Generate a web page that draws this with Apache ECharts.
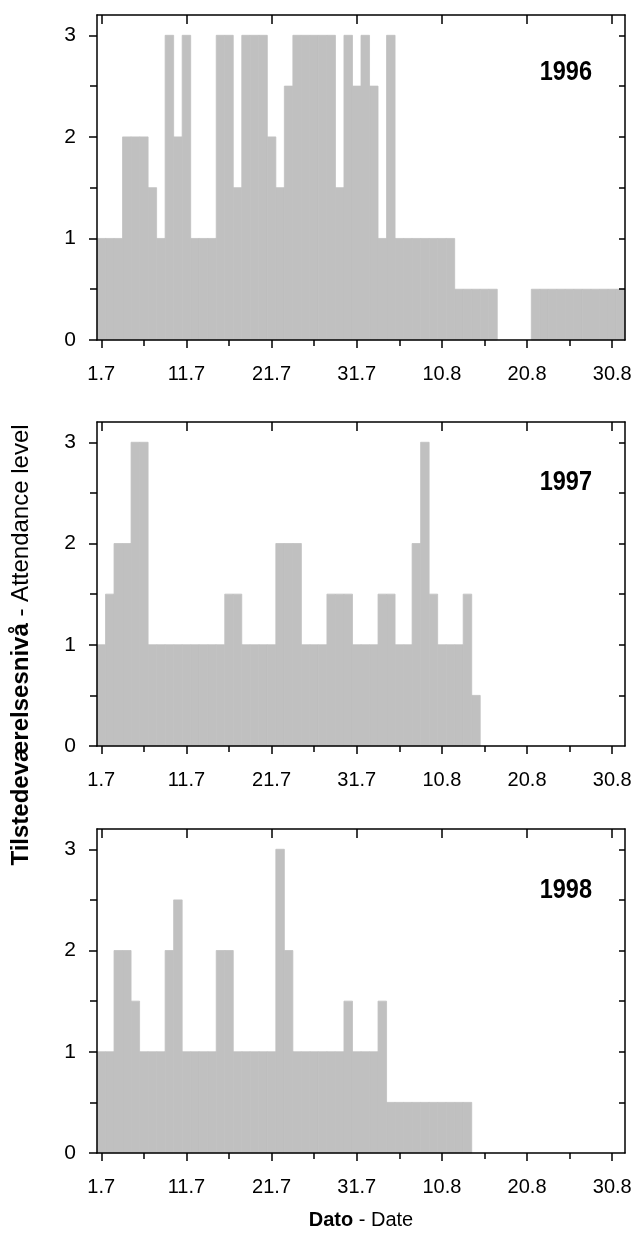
<!DOCTYPE html>
<html>
<head>
<meta charset="utf-8">
<script src="https://cdn.jsdelivr.net/npm/echarts@6/dist/echarts.min.js"></script>
<style>
  html, body { margin: 0; padding: 0; background: #fff; }
  #chart { width: 635px; height: 1260px; }
</style>
</head>
<body>
<div id="chart"></div>
<script>
// Days counted from 1 July (day 1) to 31 August (day 62)
const days = [];
for (let d = 1; d <= 62; d++) days.push(d);

// Attendance level per day, one array per season
const v1996 = [1, 1, 1, 2, 2, 2, 1.5, 1, 3, 2,
               3, 1, 1, 1, 3, 3, 1.5, 3, 3, 3,
               2, 1.5, 2.5, 3, 3, 3, 3, 3, 1.5, 3,
               2.5, 3, 2.5, 1, 3, 1, 1, 1, 1, 1,
               1, 1, 0.5, 0.5, 0.5, 0.5, 0.5, 0, 0, 0,
               0, 0.5, 0.5, 0.5, 0.5, 0.5, 0.5, 0.5, 0.5, 0.5, 0.5, 0.5];
const v1997 = [1, 1.5, 2, 2, 3, 3, 1, 1, 1, 1,
               1, 1, 1, 1, 1, 1.5, 1.5, 1, 1, 1,
               1, 2, 2, 2, 1, 1, 1, 1.5, 1.5, 1.5,
               1, 1, 1, 1.5, 1.5, 1, 1, 2, 3, 1.5,
               1, 1, 1, 1.5, 0.5, 0, 0, 0, 0, 0,
               0, 0, 0, 0, 0, 0, 0, 0, 0, 0, 0, 0];
const v1998 = [1, 1, 2, 2, 1.5, 1, 1, 1, 2, 2.5,
               1, 1, 1, 1, 2, 2, 1, 1, 1, 1,
               1, 3, 2, 1, 1, 1, 1, 1, 1, 1.5,
               1, 1, 1, 1.5, 0.5, 0.5, 0.5, 0.5, 0.5, 0.5,
               0.5, 0.5, 0.5, 0.5, 0, 0, 0, 0, 0, 0,
               0, 0, 0, 0, 0, 0, 0, 0, 0, 0, 0, 0];

const years = ['1996', '1997', '1998'];
const seasons = [v1996, v1997, v1998];

// Axis ticks and their labels
const xMajorDays = [1, 11, 21, 31, 41, 51, 61];
const xMinorDays = [6, 16, 26, 36, 46, 56];
const xTickLabels = ['1.7', '11.7', '21.7', '31.7', '10.8', '20.8', '30.8'];
const yMajor = [0, 1, 2, 3];
const yMinor = [0.5, 1.5, 2.5];
const yRightTicks = [0.5, 1, 1.5, 2, 2.5, 3];

const FONT = 'Liberation Sans';
const BAR = '#c0c0c0';
const INK = '#000';

const panelTops = [15, 422, 829];
const panelHeight = 324;
const yearLabelY = [72, 482, 890];

const grids = [], xAxes = [], yAxes = [], series = [], graphics = [];

panelTops.forEach((top, i) => {
  grids.push({ left: 97, right: 10, top: top, height: i === 0 ? 325 : panelHeight });

  const xBase = { gridIndex: i, type: 'value', min: 0.5, max: 62.5, splitLine: { show: false }, z: 5 };
  // bottom axis: line, major ticks and labels
  xAxes.push(Object.assign({}, xBase, {
    position: 'bottom',
    axisLine: { show: true, onZero: false, lineStyle: { color: INK, width: 1.5 } },
    axisTick: { show: true, inside: false, length: 8, customValues: xMajorDays, lineStyle: { color: INK, width: 1.5 } },
    axisLabel: {
      show: true, customValues: xMajorDays, margin: 24, fontSize: 20, color: INK, fontFamily: FONT,
      formatter: v => xTickLabels[xMajorDays.indexOf(Math.round(v))] || ''
    }
  }));
  // bottom axis: minor ticks
  xAxes.push(Object.assign({}, xBase, {
    position: 'bottom',
    axisLine: { show: false, onZero: false },
    axisTick: { show: true, inside: false, length: 6, customValues: xMinorDays, lineStyle: { color: INK, width: 1.5 } },
    axisLabel: { show: false }
  }));
  // top frame with inward ticks
  xAxes.push(Object.assign({}, xBase, {
    position: 'top',
    axisLine: { show: true, onZero: false, lineStyle: { color: INK, width: 1.5 } },
    axisTick: { show: true, inside: true, length: 9, customValues: xMajorDays, lineStyle: { color: INK, width: 1.5 } },
    axisLabel: { show: false }
  }));

  const yBase = { gridIndex: i, type: 'value', min: 0, max: 3.2, splitLine: { show: false }, z: 5 };
  // left axis: line, major ticks and labels
  yAxes.push(Object.assign({}, yBase, {
    position: 'left',
    axisLine: { show: true, onZero: false, lineStyle: { color: INK, width: 1.5 } },
    axisTick: { show: true, inside: false, length: 8, customValues: yMajor, lineStyle: { color: INK, width: 1.5 } },
    axisLabel: { show: true, customValues: yMajor, margin: 21, fontSize: 21, color: INK, fontFamily: FONT }
  }));
  // left axis: minor ticks
  yAxes.push(Object.assign({}, yBase, {
    position: 'left',
    axisLine: { show: false, onZero: false },
    axisTick: { show: true, inside: false, length: 7, customValues: yMinor, lineStyle: { color: INK, width: 1.5 } },
    axisLabel: { show: false }
  }));
  // right frame with inward ticks
  yAxes.push(Object.assign({}, yBase, {
    position: 'right',
    axisLine: { show: true, onZero: false, lineStyle: { color: INK, width: 1.5 } },
    axisTick: { show: true, inside: true, length: 6, customValues: yRightTicks, lineStyle: { color: INK, width: 1.5 } },
    axisLabel: { show: false }
  }));

  const values = seasons[i];
  series.push({
    type: 'custom',
    name: years[i],
    xAxisIndex: i * 3,
    yAxisIndex: i * 3,
    z: 2,
    silent: true,
    encode: { x: 0, y: 1 },
    data: days.map((d, k) => [d, values[k]]),
    renderItem: (params, api) => {
      const day = api.value(0);
      const v = api.value(1);
      if (!v) return null;
      const a = api.coord([day - 0.5, 0]);
      const b = api.coord([day + 0.5, v]);
      return {
        type: 'rect',
        shape: { x: a[0], y: b[1], width: b[0] - a[0], height: a[1] - b[1] },
        style: { fill: BAR, stroke: BAR, lineWidth: 0.8 }
      };
    }
  });

  // season label, condensed bold
  graphics.push({
    type: 'text', x: 592, y: yearLabelY[i], scaleX: 0.84,
    style: {
      text: years[i], align: 'right', verticalAlign: 'middle',
      font: 'bold 28px "Liberation Sans"', fill: INK
    }
  });
});

// axis titles
graphics.push({
  type: 'text', x: 21, y: 645, rotation: Math.PI / 2,
  style: {
    text: '{b|Tilstedeværelsesnivå} - Attendance level',
    align: 'center', verticalAlign: 'middle',
    font: '24px "Liberation Sans"', fill: INK,
    rich: { b: { fontWeight: 'bold', fontSize: 24, fontFamily: FONT, fill: INK } }
  }
});
graphics.push({
  type: 'text', x: 361, y: 1220,
  style: {
    text: '{b|Dato} - Date',
    align: 'center', verticalAlign: 'middle',
    font: '20px "Liberation Sans"', fill: INK,
    rich: { b: { fontWeight: 'bold', fontSize: 20, fontFamily: FONT, fill: INK } }
  }
});

const chart = echarts.init(document.getElementById('chart'), null, { renderer: 'canvas' });
chart.setOption({
  animation: false,
  backgroundColor: '#fff',
  grid: grids,
  xAxis: xAxes,
  yAxis: yAxes,
  series: series,
  graphic: graphics
});
</script>
</body>
</html>
